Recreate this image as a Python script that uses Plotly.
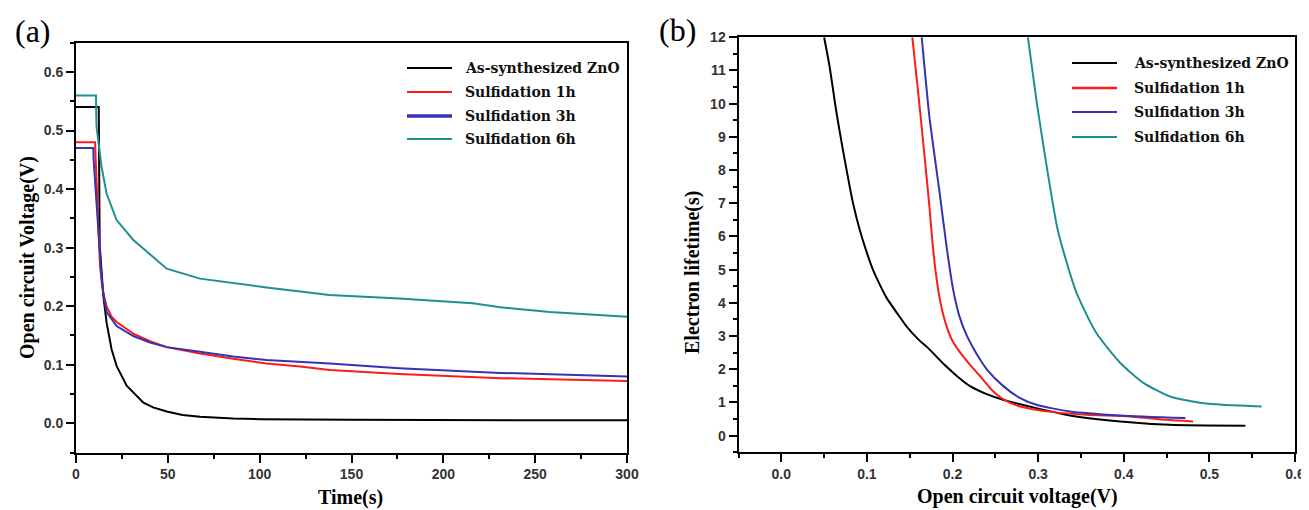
import plotly.graph_objects as go

# page is drawn inside the browser body's default 8px margin
OFF = 8
W, H = 1309 - OFF, 510 - OFF

names = ["As-synthesized ZnO", "Sulfidation 1h", "Sulfidation 3h", "Sulfidation 6h"]
colors = ["#000000", "#ff1a1a", "#3333b3", "#1f9090"]

# ---- panel (a): open-circuit voltage decay ----
t_zno = [0, 12.4, 12.9, 13.1, 14.9, 16.7, 19.4, 22.1, 27.6, 36.7, 42.0, 49.4, 58, 67.5, 85.6, 100, 150, 200, 250, 300]
v_zno = [0.54, 0.54, 0.30, 0.296, 0.217, 0.171, 0.126, 0.098, 0.064, 0.035, 0.027, 0.020, 0.014, 0.011, 0.008, 0.007, 0.006, 0.005, 0.005, 0.005]

t_1h = [0, 10.4, 10.6, 13.1, 14.9, 16.7, 19.4, 22.1, 31.2, 40.3, 49.4, 67.5, 85.6, 103.7, 122, 138.2, 176, 231, 300]
v_1h = [0.48, 0.48, 0.46, 0.267, 0.222, 0.199, 0.182, 0.173, 0.153, 0.140, 0.130, 0.119, 0.110, 0.102, 0.097, 0.091, 0.084, 0.077, 0.072]

t_3h = [0, 9.4, 9.6, 12.6, 14.1, 15.4, 16.7, 22.1, 31.2, 40.3, 49.4, 67.5, 85.6, 103.7, 122, 138.2, 176, 231, 300]
v_3h = [0.47, 0.47, 0.45, 0.296, 0.239, 0.211, 0.190, 0.166, 0.149, 0.138, 0.130, 0.122, 0.114, 0.108, 0.105, 0.102, 0.094, 0.086, 0.080]

t_6h = [0, 10.9, 11.0, 11.2, 12.1, 13.9, 16.7, 22.1, 31.2, 42.1, 49.4, 67.5, 85.6, 103.7, 122, 138, 176, 216, 231, 258, 300]
v_6h = [0.56, 0.56, 0.53, 0.506, 0.483, 0.438, 0.392, 0.347, 0.313, 0.284, 0.264, 0.247, 0.239, 0.232, 0.225, 0.219, 0.213, 0.205, 0.198, 0.190, 0.182]

# ---- panel (b): electron lifetime vs Voc ----
voc_zno = [0.050, 0.0565, 0.064, 0.072, 0.0838, 0.0916, 0.0994, 0.107, 0.115, 0.123, 0.135, 0.146, 0.160, 0.173, 0.190, 0.205, 0.220, 0.240, 0.259, 0.298, 0.337, 0.396, 0.454, 0.542]
tau_zno = [12.0, 11.1, 9.8, 8.6, 7.0, 6.2, 5.55, 5.0, 4.55, 4.15, 3.7, 3.3, 2.9, 2.6, 2.15, 1.8, 1.5, 1.25, 1.08, 0.83, 0.61, 0.43, 0.33, 0.30]

voc_1h = [0.153, 0.160, 0.167, 0.173, 0.177, 0.181, 0.186, 0.193, 0.200, 0.209, 0.220, 0.232, 0.245, 0.259, 0.279, 0.318, 0.357, 0.407, 0.450, 0.481]
tau_1h = [12.0, 10.3, 8.5, 6.9, 5.7, 4.8, 4.0, 3.3, 2.85, 2.5, 2.15, 1.8, 1.4, 1.1, 0.88, 0.71, 0.63, 0.58, 0.48, 0.43]

voc_3h = [0.164, 0.173, 0.185, 0.193, 0.2007, 0.208, 0.216, 0.224, 0.232, 0.240, 0.259, 0.279, 0.298, 0.337, 0.396, 0.472]
tau_3h = [12.0, 9.6, 7.3, 5.7, 4.4, 3.6, 3.05, 2.65, 2.3, 2.0, 1.5, 1.13, 0.93, 0.73, 0.61, 0.53]

voc_6h = [0.288, 0.298, 0.310, 0.322, 0.329, 0.345, 0.368, 0.396, 0.423, 0.454, 0.493, 0.561]
tau_6h = [12.0, 10.1, 8.1, 6.3, 5.6, 4.29, 3.09, 2.19, 1.59, 1.18, 0.98, 0.88]

left_series = [(t_zno, v_zno), (t_1h, v_1h), (t_3h, v_3h), (t_6h, v_6h)]
right_series = [(voc_zno, tau_zno), (voc_1h, tau_1h), (voc_3h, tau_3h), (voc_6h, tau_6h)]

fig = go.Figure()
for (x, y), c, n in zip(left_series, colors, names):
    fig.add_trace(go.Scatter(x=x, y=y, mode="lines", name=n, showlegend=False,
                             line=dict(color=c, width=2), xaxis="x", yaxis="y"))
for (x, y), c, n in zip(right_series, colors, names):
    fig.add_trace(go.Scatter(x=x, y=y, mode="lines", name=n, showlegend=False,
                             line=dict(color=c, width=2, shape="spline", smoothing=0.6),
                             xaxis="x2", yaxis="y2"))

tickfont = dict(family="Liberation Sans", size=14, color="#333333", weight="bold")
axis_common = dict(showgrid=False, zeroline=False, showline=True, linecolor="black",
                   linewidth=2, mirror=True, ticks="outside", ticklen=8, tickwidth=2,
                   tickcolor="black", tickfont=tickfont, automargin=False)
minor_common = dict(ticklen=4, tickcolor="black", ticks="outside", tickwidth=2)


def fx(x):
    return (x - OFF) / W


def fy(y):
    return 1 - (y - OFF) / H


fig.update_layout(
    width=W, height=H, margin=dict(l=0, r=0, t=0, b=0, autoexpand=False),
    paper_bgcolor="white", plot_bgcolor="white", showlegend=False,
    xaxis=dict(domain=[fx(76), fx(627)], range=[0, 300], tick0=0, dtick=50,
               minor=dict(dtick=25, **minor_common), anchor="y", **axis_common),
    yaxis=dict(domain=[fy(452.5), fy(42.7)], range=[-0.05, 0.65], tick0=0, dtick=0.1,
               tickformat=".1f", minor=dict(dtick=0.05, **minor_common),
               anchor="x", **axis_common),
    xaxis2=dict(domain=[fx(738.5), fx(1295)], range=[-0.05, 0.6], tick0=0, dtick=0.1,
                tickformat=".1f", minor=dict(dtick=0.05, **minor_common),
                anchor="y2", **axis_common),
    yaxis2=dict(domain=[fy(452.3), fy(37.2)], range=[-0.5, 12], tick0=0, dtick=1,
                minor=dict(dtick=0.5, **minor_common), anchor="x2", **axis_common),
)

annotations = []
shapes = []
title_font = dict(family="Liberation Serif", size=20, color="black", weight="bold")

# axis titles
for text, (x, y), ang in [("Time(s)", (351, 497), 0),
                          ("Open circuit Voltage(V)", (27, 258), -90),
                          ("Open circuit voltage(V)", (1017, 496), 0),
                          ("Electron lifetime(s)", (692, 273), -90)]:
    annotations.append(dict(text=text, x=fx(x), y=fy(y), xref="paper", yref="paper",
                            showarrow=False, textangle=ang, xanchor="center", yanchor="middle",
                            font=title_font))

# panel labels
for text, (x, y) in [("(a)", (33, 31)), ("(b)", (677, 30))]:
    annotations.append(dict(text=text, x=fx(x), y=fy(y), xref="paper", yref="paper",
                            showarrow=False, xanchor="center", yanchor="middle",
                            font=dict(family="Liberation Serif", size=32, color="black")))

# legends (one per panel)
leg_font = dict(family="DejaVu Serif", size=14, color="#111111", weight="bold")
legends = [dict(x0=407, x1=452, xt=463, ys=[68, 92, 116, 139], widths=[2, 2, 3.5, 2]),
           dict(x0=1072, x1=1117, xt=1132, ys=[63, 88, 112, 137], widths=[2, 2.5, 2, 2])]
for lg in legends:
    for n, c, yy, lw in zip(names, colors, lg["ys"], lg["widths"]):
        shapes.append(dict(type="line", xref="paper", yref="paper",
                           x0=fx(lg["x0"]), x1=fx(lg["x1"]), y0=fy(yy), y1=fy(yy),
                           line=dict(color=c, width=lw)))
        annotations.append(dict(text=n, x=fx(lg["xt"]), y=fy(yy), xref="paper", yref="paper",
                                showarrow=False, xanchor="left", yanchor="middle", font=leg_font))

fig.update_layout(annotations=annotations, shapes=shapes)
fig.write_html("out.html")
